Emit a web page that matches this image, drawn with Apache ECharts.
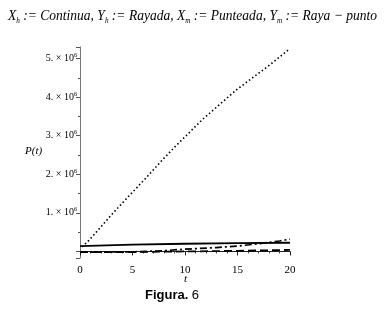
<!DOCTYPE html>
<html>
<head>
<meta charset="utf-8">
<script src="https://cdn.jsdelivr.net/npm/echarts@6/dist/echarts.min.js"></script>
<style>html,body{margin:0;padding:0;background:#fff;}#c{width:385px;height:311px;}</style>
</head>
<body>
<div id="c"></div>
<script>
// t, P(t) pairs
var continua = [[0, 140000], [5, 175000], [10, 200000], [15, 215000], [20, 225000]];
var rayada = [[0, -20000], [5, -15000], [10, 0], [15, 15000], [20, 40000]];
var punteada = [[0.2, 120000], [0.9, 300000], [3.0, 950000], [4.6, 1420000], [6.2, 1880000], [7.7, 2330000], [9.1, 2730000], [11.7, 3430000], [14.9, 4190000], [18.1, 4840000], [20, 5260000]];
var rayaPunto = [[0, -20000], [5, -10000], [8, 20000], [10, 60000], [13, 100000], [15, 140000], [17, 200000], [19, 270000], [20, 320000]];
var yTickValues = [1000000, 2000000, 3000000, 4000000, 5000000];
var xTicks = [0, 5, 10, 15, 20];
var titleParts = [['i', 'X'], ['b', 'h'], ['i', ' := Continua, Y'], ['b', 'h'], ['i', ' := Rayada, X'], ['b', 'm'], ['i', ' := Punteada, Y'], ['b', 'm'], ['i', ' := Raya − punto']];

var chart = echarts.init(document.getElementById('c'));
var serif = '"Liberation Serif", "DejaVu Serif", serif';
var titleSize = 15, subSize = 8;
// measure title width to fit the reference span
var ctx = document.createElement('canvas').getContext('2d');
var tw = 0, ttext = '';
titleParts.forEach(function (p) {
  ctx.font = 'italic ' + (p[0] === 'i' ? titleSize : subSize) + 'px ' + serif;
  tw += ctx.measureText(p[1]).width;
  ttext += '{' + p[0] + '|' + p[1] + '}';
});
var titleScale = 369 / tw;

function line(data, type, w) {
  return {type: 'line', data: data, showSymbol: false, smooth: false,
    lineStyle: {color: '#000', width: w, type: type}};
}
chart.setOption({
  animation: false,
  grid: {left: 80, right: 95, top: 47, bottom: 53},
  xAxis: {
    type: 'value', min: 0, max: 20, interval: 5,
    axisLine: {lineStyle: {color: '#222', width: 1}},
    axisTick: {length: 4, lineStyle: {color: '#222'}},
    minorTick: {show: true, splitNumber: 5, length: 2, lineStyle: {color: '#444'}},
    splitLine: {show: false},
    axisLabel: {fontFamily: serif, fontSize: 11, color: '#000', margin: 7}
  },
  yAxis: {
    type: 'value', min: -170000, max: 5300000, splitNumber: 5,
    axisLine: {show: true, lineStyle: {color: '#777', width: 1}},
    axisTick: {show: true, length: 4, lineStyle: {color: '#555'}},
    minorTick: {show: true, splitNumber: 2, length: 2, lineStyle: {color: '#555'}},
    splitLine: {show: false},
    axisLabel: {
      margin: 3, color: '#000',
      formatter: function (v) {
        if (yTickValues.indexOf(v) < 0) return '';
        return '{a|' + (v / 1000000) + '. × 10}{s|6}';
      },
      rich: {
        a: {fontFamily: serif, fontSize: 10, color: '#000'},
        s: {fontFamily: serif, fontSize: 6, color: '#000', padding: [0, 0, 6, 0]}
      }
    }
  },
  series: [
    line(continua, 'solid', 1.8),
    line(rayada, [8, 4], 1.8),
    line(punteada, [1.5, 2.5], 1.6),
    line(rayaPunto, [7, 3, 2, 3], 1.7)
  ],
  graphic: [
    {type: 'text', x: 8, y: 8, scaleX: titleScale, style: {
      text: ttext,
      rich: {
        i: {fontFamily: serif, fontStyle: 'italic', fontSize: titleSize, fill: '#000'},
        b: {fontFamily: serif, fontStyle: 'italic', fontSize: subSize, fill: '#000', padding: [9, 0, 0, 0]}
      }
    }},
    {type: 'text', x: 25, y: 146, style: {text: 'P(t)', fontFamily: serif, fontStyle: 'italic', fontSize: 11, fill: '#000'}},
    {type: 'text', x: 184, y: 274, style: {text: 't', fontFamily: serif, fontStyle: 'italic', fontSize: 11, fill: '#000'}},
    {type: 'text', x: 145, y: 289, style: {
      text: '{b|Figura.} {n|6}',
      rich: {
        b: {fontFamily: '"Liberation Sans", Arial, sans-serif', fontWeight: 'bold', fontSize: 13, fill: '#000'},
        n: {fontFamily: '"Liberation Sans", Arial, sans-serif', fontSize: 13, fill: '#000'}
      }
    }}
  ]
});
</script>
</body>
</html>
